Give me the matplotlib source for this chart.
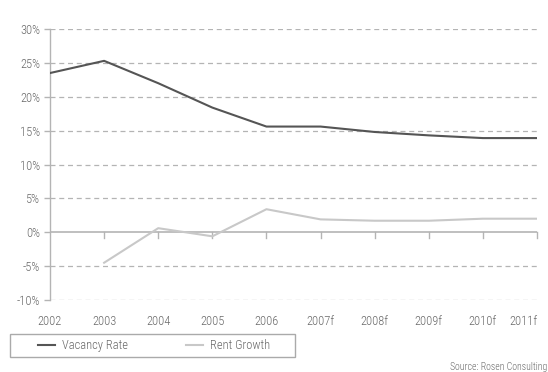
import matplotlib
matplotlib.use("Agg")
import matplotlib.pyplot as plt
from matplotlib.patches import Rectangle
from matplotlib.ticker import FuncFormatter
from matplotlib.transforms import ScaledTranslation

years = ["2002", "2003", "2004", "2005", "2006", "2007f", "2008f", "2009f", "2010f", "2011f"]
vacancy_rate = [23.5, 25.3, 22.0, 18.4, 15.6, 15.6, 14.8, 14.3, 13.9, 13.9]
rent_years = ["2003", "2004", "2005", "2006", "2007f", "2008f", "2009f", "2010f", "2011f"]
rent_growth = [-4.5, 0.6, -0.6, 3.4, 1.9, 1.7, 1.7, 2.0, 2.0]
y_ticks = [-10, -5, 0, 5, 10, 15, 20, 25, 30]

plt.rcParams["font.family"] = ["Roboto Condensed", "DejaVu Sans"]
plt.rcParams["font.weight"] = "light"
text_color = "#6a6a6a"
grid_color = "#b4b4b4"
W, H = 548, 372


def main() -> None:
    fig = plt.figure(figsize=(5.48, 3.72), dpi=100)
    ax = fig.add_axes([50 / W, 1 - 300 / H, 487 / W, 271 / H])

    x = list(range(len(years)))
    rx = [years.index(y) for y in rent_years]

    for t in y_ticks:
        if t != 0:
            ax.axhline(t, color=grid_color, linestyle=(0, (4, 3)), linewidth=0.9, zorder=1)
    ax.axhline(0, color=grid_color, linewidth=1.2, zorder=1)

    ax.plot(x, vacancy_rate, color="#555555", linewidth=1.5, label="Vacancy Rate", zorder=3)
    ax.plot(rx, rent_growth, color="#c8c8c8", linewidth=1.5, label="Rent Growth", zorder=3)

    ax.set_xlim(0, len(years) - 1)
    ax.set_ylim(-10, 30)
    ax.set_yticks(y_ticks)
    ax.yaxis.set_major_formatter(FuncFormatter(lambda v, p: f"{v:.0f}%"))
    ax.set_xticks(x)
    ax.set_xticklabels(years)

    # last label sits flush with the right edge
    last = ax.get_xticklabels()[-1]
    last.set_horizontalalignment("right")
    last.set_transform(last.get_transform() + ScaledTranslation(0.10, 0, fig.dpi_scale_trans))

    for s in ["top", "right", "bottom"]:
        ax.spines[s].set_visible(False)
    ax.spines["left"].set_color(grid_color)
    ax.spines["left"].set_linewidth(1.0)

    ax.tick_params(axis="y", colors=grid_color, labelcolor=text_color, labelsize=9,
                   length=4, width=1.0, pad=3)
    ax.tick_params(axis="x", length=0, labelcolor=text_color, labelsize=9, pad=11)

    # tick marks hanging from the zero line
    for xi in x[1:]:
        ax.plot([xi, xi], [0, -0.8], color=grid_color, linewidth=1.0, zorder=1, clip_on=False)

    fig.legend(loc="center left", bbox_to_anchor=(33 / W, 1 - 345.5 / H),
               ncol=2, frameon=False, fontsize=9, handlelength=1.36, handletextpad=0.56,
               columnspacing=4.6, borderaxespad=0, labelcolor=text_color)
    fig.patches.append(Rectangle((10 / W, 1 - 357 / H), 285 / W, 23 / H, transform=fig.transFigure,
                                 fill=False, edgecolor="#aaaaaa", linewidth=1.0))

    fig.text(547 / W, 1 - 367 / H, "Source: Rosen Consulting", ha="right", va="center",
             fontsize=7, color=text_color)

    fig.savefig("out.png", dpi=100)


if __name__ == "__main__":
    main()
